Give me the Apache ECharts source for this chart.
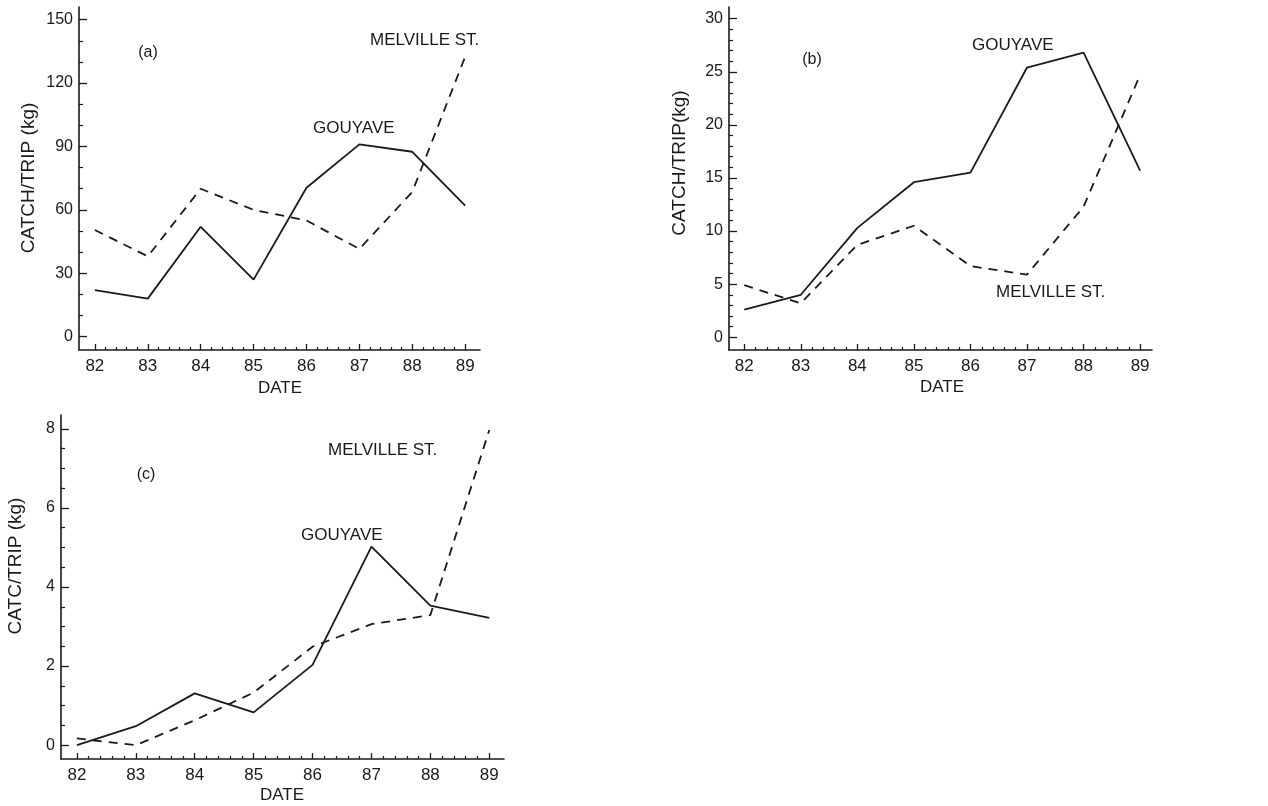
<!DOCTYPE html>
<html>
<head>
<meta charset="utf-8">
<title>Catch per trip</title>
<script src="https://cdn.jsdelivr.net/npm/echarts@6/dist/echarts.min.js"></script>
<style>
  html, body { margin: 0; padding: 0; background: #fff; }
  #chart { width: 1268px; height: 806px; }
</style>
</head>
<body>
<div id="chart"></div>
<script>
// years on the x axis (19xx)
const years = [82, 83, 84, 85, 86, 87, 88, 89];

// (a) catch/trip (kg)
const gouyaveA = [22, 18, 52, 27, 70.5, 91, 87.5, 62];
const melvilleA = [50.5, 38, 70, 60, 55, 41.5, 68.5, 132.5];
// (b)
const gouyaveB = [2.6, 4.0, 10.3, 14.6, 15.5, 25.4, 26.8, 15.7];
const melvilleB = [4.9, 3.2, 8.7, 10.5, 6.7, 5.9, 12.3, 24.7];
// (c)
const gouyaveC = [0, 0.48, 1.31, 0.83, 2.03, 5.02, 3.53, 3.22];
const melvilleC = [0.17, 0, 0.63, 1.33, 2.49, 3.06, 3.29, 7.97];

// tick labels
const yTicksA = [0, 30, 60, 90, 120, 150];
const yTicksB = [0, 5, 10, 15, 20, 25, 30];
const yTicksC = [0, 2, 4, 6, 8];

const FONT = '"Liberation Sans", Arial, Helvetica, sans-serif';
const INK = '#1a1a1a';

// minor tick positions between a first and last value
const minorTicks = function (from, to, step, skipEvery) {
  const out = [];
  const n = Math.round((to - from) / step);
  for (let i = 1; i < n; i++) {
    if (i % skipEvery === 0) continue;
    out.push(+(from + i * step).toFixed(4));
  }
  return out;
};

const pairs = function (xs, ys) {
  return xs.map((x, i) => [x, ys[i]]);
};

const chart = echarts.init(document.getElementById('chart'), null, { renderer: 'canvas' });

// one panel = a grid, two x axes and two y axes (major and minor ticks)
const panels = [
  { grid: { left: 79, top: 7, width: 401, height: 343 },
    x: [81.70, 89.28], y: [-6.3, 156], yMajor: yTicksA, yMinor: minorTicks(0, 150, 10, 3),
    solid: gouyaveA, dashed: melvilleA },
  { grid: { left: 729, top: 7, width: 423, height: 343 },
    x: [81.73, 89.21], y: [-1.2, 31.1], yMajor: yTicksB, yMinor: minorTicks(0, 30, 1, 5),
    solid: gouyaveB, dashed: melvilleB },
  { grid: { left: 61, top: 415, width: 443, height: 344 },
    x: [81.73, 89.25], y: [-0.35, 8.35], yMajor: yTicksC, yMinor: minorTicks(0, 8, 0.5, 4),
    solid: gouyaveC, dashed: melvilleC }
];

const xMinor = minorTicks(82, 89, 0.2, 5);

const grids = [], xAxes = [], yAxes = [], series = [];
panels.forEach(function (p, k) {
  grids.push(p.grid);
  // major x axis
  xAxes.push({
    type: 'value', gridIndex: k, position: 'bottom', min: p.x[0], max: p.x[1],
    axisLine: { show: true, onZero: false, lineStyle: { color: INK, width: 1.6 } },
    axisTick: { show: true, inside: true, length: 6, customValues: years, lineStyle: { color: INK, width: 1.3 } },
    axisLabel: { customValues: years, margin: 8, color: INK, fontSize: 17, fontFamily: FONT },
    splitLine: { show: false }
  });
  // minor x ticks
  xAxes.push({
    type: 'value', gridIndex: k, position: 'bottom', min: p.x[0], max: p.x[1],
    axisLine: { show: false, onZero: false },
    axisTick: { show: true, inside: true, length: 3, customValues: xMinor, lineStyle: { color: INK, width: 1.2 } },
    axisLabel: { show: false },
    splitLine: { show: false }
  });
  yAxes.push({
    type: 'value', gridIndex: k, position: 'left', min: p.y[0], max: p.y[1],
    axisLine: { show: true, onZero: false, lineStyle: { color: INK, width: 1.6 } },
    axisTick: { show: true, inside: true, length: 8, customValues: p.yMajor, lineStyle: { color: INK, width: 1.3 } },
    axisLabel: { customValues: p.yMajor, margin: 6, color: INK, fontSize: 16, fontFamily: FONT },
    splitLine: { show: false }
  });
  // minor y ticks
  yAxes.push({
    type: 'value', gridIndex: k, position: 'left', min: p.y[0], max: p.y[1],
    axisLine: { show: false, onZero: false },
    axisTick: { show: true, inside: true, length: 4, customValues: p.yMinor, lineStyle: { color: INK, width: 1.2 } },
    axisLabel: { show: false },
    splitLine: { show: false }
  });
  series.push({
    name: 'GOUYAVE', type: 'line', xAxisIndex: 2 * k, yAxisIndex: 2 * k,
    data: pairs(years, p.solid), symbol: 'none', silent: true,
    lineStyle: { color: INK, width: 1.8, type: 'solid' }
  });
  series.push({
    name: 'MELVILLE ST.', type: 'line', xAxisIndex: 2 * k, yAxisIndex: 2 * k,
    data: pairs(years, p.dashed), symbol: 'none', silent: true,
    lineStyle: { color: INK, width: 1.8, type: [9, 7] }
  });
});

// text labels placed on the page
const txt = function (text, x, y, size, align) {
  return {
    type: 'text', x: x, y: y, silent: true,
    style: { text: text, fill: INK, font: size + 'px ' + FONT, textAlign: align || 'left', textVerticalAlign: 'middle' }
  };
};
const vtxt = function (text, x, y, size) {
  return {
    type: 'text', x: x, y: y, rotation: Math.PI / 2, silent: true,
    style: { text: text, fill: INK, font: size + 'px ' + FONT, textAlign: 'center', textVerticalAlign: 'middle' }
  };
};

const graphic = [
  // (a)
  txt('(a)', 148, 53, 16, 'center'),
  txt('MELVILLE ST.', 370, 40, 17),
  txt('GOUYAVE', 313, 128, 17),
  txt('DATE', 280, 388, 17, 'center'),
  vtxt('CATCH/TRIP (kg)', 29, 178, 19),
  // (b)
  txt('(b)', 812, 60, 16, 'center'),
  txt('GOUYAVE', 972, 45, 17),
  txt('MELVILLE ST.', 996, 292, 17),
  txt('DATE', 942, 387, 17, 'center'),
  vtxt('CATCH/TRIP(kg)', 680, 163, 19),
  // (c)
  txt('(c)', 146, 475, 16, 'center'),
  txt('MELVILLE ST.', 328, 450, 17),
  txt('GOUYAVE', 301, 535, 17),
  txt('DATE', 282, 795, 17, 'center'),
  vtxt('CATC/TRIP (kg)', 16, 566, 19)
];

const option = {
  backgroundColor: '#fff',
  animation: false,
  grid: grids,
  xAxis: xAxes,
  yAxis: yAxes,
  series: series,
  graphic: graphic
};

option && chart.setOption(option);
</script>
</body>
</html>
